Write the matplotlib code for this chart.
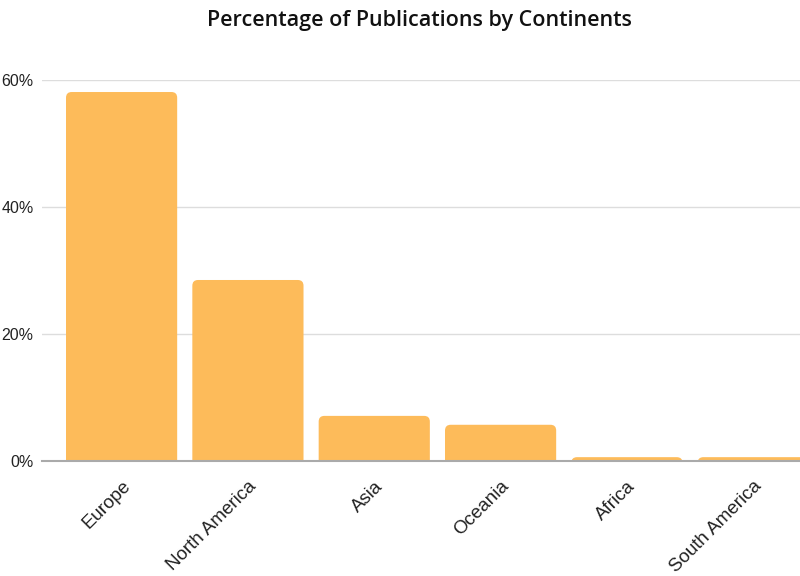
import matplotlib
matplotlib.use('Agg')
import matplotlib.pyplot as plt
from matplotlib.patches import FancyBboxPatch
import numpy as np

# data
continents = ['Europe', 'North America', 'Asia', 'Oceania', 'Africa', 'South America']
percent = [58.1, 28.5, 7.1, 5.7, 0.6, 0.6]
yticks = [0, 20, 40, 60]

fig = plt.figure(figsize=(8, 5.76), dpi=100)
ax = fig.add_axes([0.0525, 0.1997, 0.9475, 0.6615])

x = np.arange(len(continents))
bars = ax.bar(x, percent, width=0.88, color='#fdbb5a', zorder=3)

# rounded top corners: swap each bar for a rounded box that runs below 0 (clipped)
for b in bars:
    bx, bw, bh = b.get_x(), b.get_width(), b.get_height()
    rb = FancyBboxPatch((bx, -3), bw, bh + 3, boxstyle='round,pad=0,rounding_size=0.045',
                        mutation_aspect=20, facecolor='#fdbb5a', edgecolor='none', zorder=3)
    ax.add_patch(rb)
    b.set_visible(False)

ax.set_xlim(-0.63, 5.37)
ax.set_ylim(0, 60)
ax.set_yticks(yticks)
ax.set_yticklabels([str(v) + '%' for v in yticks], fontsize=11.5, family='Liberation Sans', color='#222222')
ax.yaxis.grid(True, color='#dddddd', linewidth=1, zorder=0)
ax.tick_params(axis='y', length=0, pad=6)

ax.set_xticks(x)
ax.set_xticklabels(continents, rotation=45, ha='right', rotation_mode='anchor',
                   fontsize=13.5, family='Liberation Sans', color='#222222')
ax.tick_params(axis='x', length=0, pad=12)

for s in ['top', 'right', 'left']:
    ax.spines[s].set_visible(False)
ax.spines['bottom'].set_color('#aaaaaa')
ax.spines['bottom'].set_linewidth(1.5)
ax.spines['bottom'].set_zorder(4)

fig.text(0.524, 0.965, 'Percentage of Publications by Continents', ha='center', va='center',
         fontsize=15.5, family='Open Sans', fontweight='semibold', color='#111111')

fig.savefig('out.png', dpi=100, facecolor='white')
